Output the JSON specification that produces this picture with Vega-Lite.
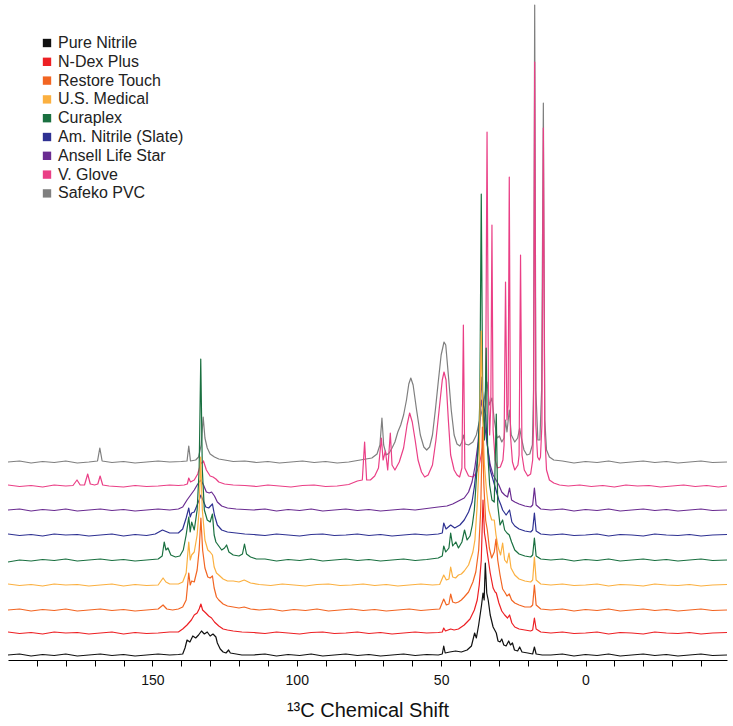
{
  "$schema": "https://vega.github.io/schema/vega-lite/v6.json",
  "description": "Stacked 13C NMR spectra of nine glove materials.",
  "width": 719,
  "height": 660,
  "autosize": {"type": "none"},
  "padding": {"left": 8, "top": 0, "right": 6, "bottom": 66},
  "config": {"view": {"stroke": null}, "font": "Liberation Sans"},
  "datasets": {
    "spectra": [
      {"s":"Safeko PVC","x":200,"y":198},{"s":"Safeko PVC","x":196,"y":199},{"s":"Safeko PVC","x":192,"y":197},{"s":"Safeko PVC","x":188,"y":198.5},{"s":"Safeko PVC","x":184,"y":197.5},{"s":"Safeko PVC","x":180,"y":199},{"s":"Safeko PVC","x":176,"y":197},{"s":"Safeko PVC","x":172,"y":198},{"s":"Safeko PVC","x":169,"y":199},{"s":"Safeko PVC","x":168.2,"y":212},{"s":"Safeko PVC","x":167.4,"y":199},{"s":"Safeko PVC","x":164,"y":197.5},{"s":"Safeko PVC","x":160,"y":198.5},{"s":"Safeko PVC","x":156,"y":197},{"s":"Safeko PVC","x":152,"y":198},{"s":"Safeko PVC","x":148,"y":199},{"s":"Safeko PVC","x":144,"y":198},{"s":"Safeko PVC","x":140,"y":198.5},{"s":"Safeko PVC","x":138,"y":199},{"s":"Safeko PVC","x":137.4,"y":214},{"s":"Safeko PVC","x":136.8,"y":199},{"s":"Safeko PVC","x":135,"y":200},{"s":"Safeko PVC","x":134,"y":203},{"s":"Safeko PVC","x":133.1,"y":215},{"s":"Safeko PVC","x":132.4,"y":243},{"s":"Safeko PVC","x":131.8,"y":222},{"s":"Safeko PVC","x":131,"y":212},{"s":"Safeko PVC","x":130,"y":206},{"s":"Safeko PVC","x":128.5,"y":203},{"s":"Safeko PVC","x":127,"y":201},{"s":"Safeko PVC","x":125,"y":200},{"s":"Safeko PVC","x":122,"y":198.5},{"s":"Safeko PVC","x":118,"y":199},{"s":"Safeko PVC","x":114,"y":197.5},{"s":"Safeko PVC","x":110,"y":198.5},{"s":"Safeko PVC","x":106,"y":197},{"s":"Safeko PVC","x":102,"y":198},{"s":"Safeko PVC","x":98,"y":199},{"s":"Safeko PVC","x":94,"y":197.5},{"s":"Safeko PVC","x":90,"y":198.5},{"s":"Safeko PVC","x":86,"y":197},{"s":"Safeko PVC","x":82,"y":198},{"s":"Safeko PVC","x":78,"y":200},{"s":"Safeko PVC","x":74,"y":202},{"s":"Safeko PVC","x":72.2,"y":206},{"s":"Safeko PVC","x":71.2,"y":215},{"s":"Safeko PVC","x":70.5,"y":242},{"s":"Safeko PVC","x":69.9,"y":215},{"s":"Safeko PVC","x":69,"y":205},{"s":"Safeko PVC","x":68,"y":207},{"s":"Safeko PVC","x":67,"y":212},{"s":"Safeko PVC","x":66,"y":218},{"s":"Safeko PVC","x":65,"y":228},{"s":"Safeko PVC","x":64,"y":235},{"s":"Safeko PVC","x":63,"y":245},{"s":"Safeko PVC","x":62,"y":260},{"s":"Safeko PVC","x":61.2,"y":276},{"s":"Safeko PVC","x":60.5,"y":282},{"s":"Safeko PVC","x":59.7,"y":275},{"s":"Safeko PVC","x":58.5,"y":250},{"s":"Safeko PVC","x":57.2,"y":225},{"s":"Safeko PVC","x":56,"y":213},{"s":"Safeko PVC","x":55,"y":210},{"s":"Safeko PVC","x":54,"y":213},{"s":"Safeko PVC","x":53,"y":225},{"s":"Safeko PVC","x":52,"y":250},{"s":"Safeko PVC","x":51,"y":278},{"s":"Safeko PVC","x":50,"y":305},{"s":"Safeko PVC","x":49,"y":318},{"s":"Safeko PVC","x":48.4,"y":315},{"s":"Safeko PVC","x":47.5,"y":285},{"s":"Safeko PVC","x":46.5,"y":250},{"s":"Safeko PVC","x":45.5,"y":225},{"s":"Safeko PVC","x":44.5,"y":216},{"s":"Safeko PVC","x":43.5,"y":214},{"s":"Safeko PVC","x":42.8,"y":218},{"s":"Safeko PVC","x":42.3,"y":225},{"s":"Safeko PVC","x":41.7,"y":216},{"s":"Safeko PVC","x":40.5,"y":215},{"s":"Safeko PVC","x":39,"y":218},{"s":"Safeko PVC","x":37.8,"y":225},{"s":"Safeko PVC","x":36.8,"y":238},{"s":"Safeko PVC","x":35.8,"y":250},{"s":"Safeko PVC","x":35,"y":262},{"s":"Safeko PVC","x":34.1,"y":278},{"s":"Safeko PVC","x":33.3,"y":255},{"s":"Safeko PVC","x":32.4,"y":262},{"s":"Safeko PVC","x":31.6,"y":240},{"s":"Safeko PVC","x":30.6,"y":222},{"s":"Safeko PVC","x":29.8,"y":224},{"s":"Safeko PVC","x":29,"y":218},{"s":"Safeko PVC","x":28.2,"y":222},{"s":"Safeko PVC","x":27.7,"y":240},{"s":"Safeko PVC","x":27.2,"y":228},{"s":"Safeko PVC","x":26.4,"y":250},{"s":"Safeko PVC","x":25.7,"y":225},{"s":"Safeko PVC","x":24.5,"y":218},{"s":"Safeko PVC","x":23.5,"y":222},{"s":"Safeko PVC","x":22.8,"y":232},{"s":"Safeko PVC","x":22.2,"y":222},{"s":"Safeko PVC","x":21.3,"y":210},{"s":"Safeko PVC","x":20.3,"y":205},{"s":"Safeko PVC","x":19.3,"y":206},{"s":"Safeko PVC","x":18.4,"y":215},{"s":"Safeko PVC","x":18,"y":270},{"s":"Safeko PVC","x":17.6,"y":655},{"s":"Safeko PVC","x":17.2,"y":270},{"s":"Safeko PVC","x":16.5,"y":220},{"s":"Safeko PVC","x":15.8,"y":220},{"s":"Safeko PVC","x":15.2,"y":270},{"s":"Safeko PVC","x":14.6,"y":557},{"s":"Safeko PVC","x":14.1,"y":240},{"s":"Safeko PVC","x":13.5,"y":210},{"s":"Safeko PVC","x":12.5,"y":203},{"s":"Safeko PVC","x":11,"y":200},{"s":"Safeko PVC","x":8,"y":199},{"s":"Safeko PVC","x":4,"y":197},{"s":"Safeko PVC","x":0,"y":198.5},{"s":"Safeko PVC","x":-4,"y":197.5},{"s":"Safeko PVC","x":-8,"y":199},{"s":"Safeko PVC","x":-12,"y":197},{"s":"Safeko PVC","x":-16,"y":198},{"s":"Safeko PVC","x":-20,"y":199},{"s":"Safeko PVC","x":-24,"y":197.5},{"s":"Safeko PVC","x":-28,"y":198.5},{"s":"Safeko PVC","x":-32,"y":197},{"s":"Safeko PVC","x":-36,"y":198},{"s":"Safeko PVC","x":-40,"y":199},{"s":"Safeko PVC","x":-44,"y":197.5},{"s":"Safeko PVC","x":-49,"y":198},

      {"s":"V. Glove","x":200,"y":175},{"s":"V. Glove","x":196,"y":173.5},{"s":"V. Glove","x":192,"y":174.5},{"s":"V. Glove","x":188,"y":173},{"s":"V. Glove","x":184,"y":175},{"s":"V. Glove","x":180,"y":174},{"s":"V. Glove","x":177.5,"y":174.5},{"s":"V. Glove","x":176.1,"y":180},{"s":"V. Glove","x":175,"y":175},{"s":"V. Glove","x":173.5,"y":175},{"s":"V. Glove","x":172.4,"y":186},{"s":"V. Glove","x":171.5,"y":176},{"s":"V. Glove","x":170,"y":175},{"s":"V. Glove","x":168.9,"y":176},{"s":"V. Glove","x":168.1,"y":184},{"s":"V. Glove","x":167.2,"y":175},{"s":"V. Glove","x":165,"y":174},{"s":"V. Glove","x":160,"y":173},{"s":"V. Glove","x":156,"y":174.5},{"s":"V. Glove","x":152,"y":173.5},{"s":"V. Glove","x":148,"y":174},{"s":"V. Glove","x":144,"y":175},{"s":"V. Glove","x":141,"y":174.5},{"s":"V. Glove","x":139,"y":175},{"s":"V. Glove","x":137.9,"y":176},{"s":"V. Glove","x":137.4,"y":182},{"s":"V. Glove","x":136.8,"y":178},{"s":"V. Glove","x":135.5,"y":180},{"s":"V. Glove","x":134.3,"y":186},{"s":"V. Glove","x":133.3,"y":196},{"s":"V. Glove","x":132.3,"y":199},{"s":"V. Glove","x":131.3,"y":190},{"s":"V. Glove","x":130,"y":184},{"s":"V. Glove","x":129,"y":183},{"s":"V. Glove","x":128,"y":181},{"s":"V. Glove","x":127,"y":178},{"s":"V. Glove","x":125,"y":176},{"s":"V. Glove","x":122,"y":175},{"s":"V. Glove","x":118,"y":174.5},{"s":"V. Glove","x":114,"y":173.5},{"s":"V. Glove","x":110,"y":175},{"s":"V. Glove","x":106,"y":174},{"s":"V. Glove","x":102,"y":173},{"s":"V. Glove","x":98,"y":174.5},{"s":"V. Glove","x":94,"y":175},{"s":"V. Glove","x":90,"y":173.5},{"s":"V. Glove","x":86,"y":174},{"s":"V. Glove","x":82,"y":175.5},{"s":"V. Glove","x":79,"y":179},{"s":"V. Glove","x":77.3,"y":180},{"s":"V. Glove","x":76.5,"y":218},{"s":"V. Glove","x":75.8,"y":180},{"s":"V. Glove","x":74.5,"y":180},{"s":"V. Glove","x":73,"y":184},{"s":"V. Glove","x":71.7,"y":192},{"s":"V. Glove","x":70.7,"y":222},{"s":"V. Glove","x":70.1,"y":200},{"s":"V. Glove","x":69.3,"y":209},{"s":"V. Glove","x":68.5,"y":190},{"s":"V. Glove","x":67.6,"y":227},{"s":"V. Glove","x":67,"y":195},{"s":"V. Glove","x":66,"y":190},{"s":"V. Glove","x":64.5,"y":198},{"s":"V. Glove","x":63,"y":212},{"s":"V. Glove","x":61.8,"y":235},{"s":"V. Glove","x":60.9,"y":247},{"s":"V. Glove","x":60,"y":238},{"s":"V. Glove","x":59,"y":220},{"s":"V. Glove","x":58,"y":200},{"s":"V. Glove","x":56.8,"y":188},{"s":"V. Glove","x":55.7,"y":183},{"s":"V. Glove","x":54.5,"y":185},{"s":"V. Glove","x":53,"y":195},{"s":"V. Glove","x":51.8,"y":220},{"s":"V. Glove","x":50.7,"y":250},{"s":"V. Glove","x":49.6,"y":280},{"s":"V. Glove","x":49,"y":288},{"s":"V. Glove","x":48.3,"y":280},{"s":"V. Glove","x":47.5,"y":240},{"s":"V. Glove","x":46.7,"y":205},{"s":"V. Glove","x":45.5,"y":190},{"s":"V. Glove","x":44.5,"y":185},{"s":"V. Glove","x":43.6,"y":183},{"s":"V. Glove","x":42.8,"y":192},{"s":"V. Glove","x":42.3,"y":335},{"s":"V. Glove","x":41.8,"y":192},{"s":"V. Glove","x":40.5,"y":184},{"s":"V. Glove","x":39,"y":183},{"s":"V. Glove","x":37.8,"y":187},{"s":"V. Glove","x":36.8,"y":195},{"s":"V. Glove","x":35.8,"y":210},{"s":"V. Glove","x":35,"y":225},{"s":"V. Glove","x":34.6,"y":260},{"s":"V. Glove","x":34.1,"y":528},{"s":"V. Glove","x":33.6,"y":260},{"s":"V. Glove","x":33.2,"y":225},{"s":"V. Glove","x":32.8,"y":255},{"s":"V. Glove","x":32.4,"y":435},{"s":"V. Glove","x":32,"y":230},{"s":"V. Glove","x":31.3,"y":200},{"s":"V. Glove","x":30.5,"y":192},{"s":"V. Glove","x":29.5,"y":193},{"s":"V. Glove","x":28.6,"y":200},{"s":"V. Glove","x":28.2,"y":215},{"s":"V. Glove","x":27.7,"y":378},{"s":"V. Glove","x":27.2,"y":240},{"s":"V. Glove","x":26.8,"y":255},{"s":"V. Glove","x":26.4,"y":483},{"s":"V. Glove","x":26,"y":225},{"s":"V. Glove","x":25.3,"y":198},{"s":"V. Glove","x":24.5,"y":190},{"s":"V. Glove","x":23.4,"y":195},{"s":"V. Glove","x":23,"y":205},{"s":"V. Glove","x":22.5,"y":405},{"s":"V. Glove","x":22,"y":205},{"s":"V. Glove","x":21.2,"y":190},{"s":"V. Glove","x":20,"y":184},{"s":"V. Glove","x":19,"y":186},{"s":"V. Glove","x":18.3,"y":200},{"s":"V. Glove","x":18,"y":235},{"s":"V. Glove","x":17.6,"y":598},{"s":"V. Glove","x":17.2,"y":235},{"s":"V. Glove","x":16.6,"y":203},{"s":"V. Glove","x":16,"y":200},{"s":"V. Glove","x":15.6,"y":203},{"s":"V. Glove","x":15.1,"y":235},{"s":"V. Glove","x":14.6,"y":532},{"s":"V. Glove","x":14.1,"y":225},{"s":"V. Glove","x":13.5,"y":190},{"s":"V. Glove","x":12.5,"y":180},{"s":"V. Glove","x":11,"y":177},{"s":"V. Glove","x":9,"y":175},{"s":"V. Glove","x":6,"y":174},{"s":"V. Glove","x":2,"y":175},{"s":"V. Glove","x":-2,"y":173.5},{"s":"V. Glove","x":-6,"y":174.5},{"s":"V. Glove","x":-10,"y":173},{"s":"V. Glove","x":-14,"y":175},{"s":"V. Glove","x":-18,"y":174},{"s":"V. Glove","x":-22,"y":174.5},{"s":"V. Glove","x":-26,"y":173},{"s":"V. Glove","x":-30,"y":174},{"s":"V. Glove","x":-34,"y":175},{"s":"V. Glove","x":-38,"y":173.5},{"s":"V. Glove","x":-42,"y":174.5},{"s":"V. Glove","x":-46,"y":173},{"s":"V. Glove","x":-49,"y":174},

      {"s":"Ansell Life Star","x":200,"y":150},{"s":"Ansell Life Star","x":196,"y":151},{"s":"Ansell Life Star","x":192,"y":149},{"s":"Ansell Life Star","x":188,"y":150.5},{"s":"Ansell Life Star","x":184,"y":149.5},{"s":"Ansell Life Star","x":180,"y":151},{"s":"Ansell Life Star","x":176,"y":149},{"s":"Ansell Life Star","x":172,"y":150},{"s":"Ansell Life Star","x":168,"y":151},{"s":"Ansell Life Star","x":164,"y":149.5},{"s":"Ansell Life Star","x":160,"y":150.5},{"s":"Ansell Life Star","x":156,"y":149},{"s":"Ansell Life Star","x":152,"y":150},{"s":"Ansell Life Star","x":148,"y":151},{"s":"Ansell Life Star","x":144,"y":150},{"s":"Ansell Life Star","x":141,"y":151},{"s":"Ansell Life Star","x":139.5,"y":153},{"s":"Ansell Life Star","x":138,"y":160},{"s":"Ansell Life Star","x":136.5,"y":166},{"s":"Ansell Life Star","x":135.5,"y":170},{"s":"Ansell Life Star","x":134.5,"y":175},{"s":"Ansell Life Star","x":133.8,"y":178},{"s":"Ansell Life Star","x":133.2,"y":180},{"s":"Ansell Life Star","x":132.3,"y":175},{"s":"Ansell Life Star","x":131.3,"y":168},{"s":"Ansell Life Star","x":130.3,"y":167},{"s":"Ansell Life Star","x":129.5,"y":168},{"s":"Ansell Life Star","x":128.5,"y":164},{"s":"Ansell Life Star","x":127.5,"y":158},{"s":"Ansell Life Star","x":126,"y":154},{"s":"Ansell Life Star","x":124,"y":152},{"s":"Ansell Life Star","x":121,"y":151},{"s":"Ansell Life Star","x":118,"y":150.5},{"s":"Ansell Life Star","x":115,"y":150},{"s":"Ansell Life Star","x":111,"y":151},{"s":"Ansell Life Star","x":107,"y":149},{"s":"Ansell Life Star","x":103,"y":150.5},{"s":"Ansell Life Star","x":99,"y":149.5},{"s":"Ansell Life Star","x":95,"y":151},{"s":"Ansell Life Star","x":91,"y":149},{"s":"Ansell Life Star","x":87,"y":150},{"s":"Ansell Life Star","x":83,"y":151},{"s":"Ansell Life Star","x":79,"y":149.5},{"s":"Ansell Life Star","x":75,"y":150.5},{"s":"Ansell Life Star","x":71,"y":149},{"s":"Ansell Life Star","x":67,"y":150},{"s":"Ansell Life Star","x":63,"y":151},{"s":"Ansell Life Star","x":59,"y":150},{"s":"Ansell Life Star","x":55,"y":151.5},{"s":"Ansell Life Star","x":51,"y":153},{"s":"Ansell Life Star","x":48,"y":154},{"s":"Ansell Life Star","x":46,"y":156},{"s":"Ansell Life Star","x":44,"y":159},{"s":"Ansell Life Star","x":42,"y":162},{"s":"Ansell Life Star","x":40.5,"y":168},{"s":"Ansell Life Star","x":39.3,"y":178},{"s":"Ansell Life Star","x":38.3,"y":193},{"s":"Ansell Life Star","x":37.3,"y":215},{"s":"Ansell Life Star","x":36.5,"y":245},{"s":"Ansell Life Star","x":36.1,"y":260},{"s":"Ansell Life Star","x":35.5,"y":250},{"s":"Ansell Life Star","x":34.8,"y":232},{"s":"Ansell Life Star","x":34,"y":215},{"s":"Ansell Life Star","x":33,"y":195},{"s":"Ansell Life Star","x":32,"y":185},{"s":"Ansell Life Star","x":31,"y":180},{"s":"Ansell Life Star","x":30,"y":175},{"s":"Ansell Life Star","x":29,"y":168},{"s":"Ansell Life Star","x":28,"y":165},{"s":"Ansell Life Star","x":27,"y":163},{"s":"Ansell Life Star","x":26.3,"y":172},{"s":"Ansell Life Star","x":25.6,"y":160},{"s":"Ansell Life Star","x":24.5,"y":158},{"s":"Ansell Life Star","x":23,"y":156},{"s":"Ansell Life Star","x":21,"y":154},{"s":"Ansell Life Star","x":19,"y":153},{"s":"Ansell Life Star","x":18.3,"y":155},{"s":"Ansell Life Star","x":17.7,"y":172},{"s":"Ansell Life Star","x":17.1,"y":155},{"s":"Ansell Life Star","x":15.5,"y":151},{"s":"Ansell Life Star","x":12,"y":150},{"s":"Ansell Life Star","x":8,"y":151},{"s":"Ansell Life Star","x":4,"y":149},{"s":"Ansell Life Star","x":0,"y":150.5},{"s":"Ansell Life Star","x":-4,"y":149.5},{"s":"Ansell Life Star","x":-8,"y":151},{"s":"Ansell Life Star","x":-12,"y":149},{"s":"Ansell Life Star","x":-16,"y":150},{"s":"Ansell Life Star","x":-20,"y":151},{"s":"Ansell Life Star","x":-24,"y":149.5},{"s":"Ansell Life Star","x":-28,"y":150.5},{"s":"Ansell Life Star","x":-32,"y":149},{"s":"Ansell Life Star","x":-36,"y":150},{"s":"Ansell Life Star","x":-40,"y":151},{"s":"Ansell Life Star","x":-44,"y":149.5},{"s":"Ansell Life Star","x":-49,"y":150},

      {"s":"Am. Nitrile (Slate)","x":200,"y":126},{"s":"Am. Nitrile (Slate)","x":196,"y":124.5},{"s":"Am. Nitrile (Slate)","x":192,"y":125.5},{"s":"Am. Nitrile (Slate)","x":188,"y":124},{"s":"Am. Nitrile (Slate)","x":184,"y":126},{"s":"Am. Nitrile (Slate)","x":180,"y":125},{"s":"Am. Nitrile (Slate)","x":176,"y":125.5},{"s":"Am. Nitrile (Slate)","x":172,"y":124},{"s":"Am. Nitrile (Slate)","x":168,"y":125},{"s":"Am. Nitrile (Slate)","x":164,"y":126},{"s":"Am. Nitrile (Slate)","x":160,"y":124},{"s":"Am. Nitrile (Slate)","x":156,"y":125.5},{"s":"Am. Nitrile (Slate)","x":152,"y":124.5},{"s":"Am. Nitrile (Slate)","x":149,"y":126},{"s":"Am. Nitrile (Slate)","x":146.5,"y":130},{"s":"Am. Nitrile (Slate)","x":144,"y":127},{"s":"Am. Nitrile (Slate)","x":141,"y":127},{"s":"Am. Nitrile (Slate)","x":139.5,"y":131},{"s":"Am. Nitrile (Slate)","x":138.3,"y":142},{"s":"Am. Nitrile (Slate)","x":137.4,"y":152},{"s":"Am. Nitrile (Slate)","x":136.9,"y":143},{"s":"Am. Nitrile (Slate)","x":136.4,"y":147},{"s":"Am. Nitrile (Slate)","x":135.5,"y":148},{"s":"Am. Nitrile (Slate)","x":134.5,"y":155},{"s":"Am. Nitrile (Slate)","x":133.8,"y":160},{"s":"Am. Nitrile (Slate)","x":133.2,"y":165},{"s":"Am. Nitrile (Slate)","x":132.5,"y":160},{"s":"Am. Nitrile (Slate)","x":131.5,"y":153},{"s":"Am. Nitrile (Slate)","x":130.5,"y":152},{"s":"Am. Nitrile (Slate)","x":129.2,"y":156},{"s":"Am. Nitrile (Slate)","x":128.5,"y":145},{"s":"Am. Nitrile (Slate)","x":127.5,"y":135},{"s":"Am. Nitrile (Slate)","x":126,"y":130},{"s":"Am. Nitrile (Slate)","x":124,"y":128},{"s":"Am. Nitrile (Slate)","x":121,"y":127},{"s":"Am. Nitrile (Slate)","x":118,"y":126},{"s":"Am. Nitrile (Slate)","x":115,"y":125.5},{"s":"Am. Nitrile (Slate)","x":111,"y":124.5},{"s":"Am. Nitrile (Slate)","x":107,"y":126},{"s":"Am. Nitrile (Slate)","x":103,"y":125},{"s":"Am. Nitrile (Slate)","x":99,"y":124},{"s":"Am. Nitrile (Slate)","x":95,"y":125.5},{"s":"Am. Nitrile (Slate)","x":91,"y":126},{"s":"Am. Nitrile (Slate)","x":87,"y":124.5},{"s":"Am. Nitrile (Slate)","x":83,"y":125},{"s":"Am. Nitrile (Slate)","x":79,"y":126},{"s":"Am. Nitrile (Slate)","x":75,"y":124.5},{"s":"Am. Nitrile (Slate)","x":71,"y":125.5},{"s":"Am. Nitrile (Slate)","x":67,"y":124},{"s":"Am. Nitrile (Slate)","x":63,"y":125},{"s":"Am. Nitrile (Slate)","x":59,"y":126},{"s":"Am. Nitrile (Slate)","x":55,"y":125},{"s":"Am. Nitrile (Slate)","x":51,"y":126},{"s":"Am. Nitrile (Slate)","x":49.6,"y":127},{"s":"Am. Nitrile (Slate)","x":49.1,"y":137},{"s":"Am. Nitrile (Slate)","x":48.3,"y":131},{"s":"Am. Nitrile (Slate)","x":46.7,"y":135},{"s":"Am. Nitrile (Slate)","x":45.3,"y":132},{"s":"Am. Nitrile (Slate)","x":43.5,"y":135},{"s":"Am. Nitrile (Slate)","x":42,"y":140},{"s":"Am. Nitrile (Slate)","x":40.5,"y":148},{"s":"Am. Nitrile (Slate)","x":39.3,"y":158},{"s":"Am. Nitrile (Slate)","x":38.5,"y":173},{"s":"Am. Nitrile (Slate)","x":37.5,"y":200},{"s":"Am. Nitrile (Slate)","x":36.6,"y":235},{"s":"Am. Nitrile (Slate)","x":36,"y":283},{"s":"Am. Nitrile (Slate)","x":35.4,"y":255},{"s":"Am. Nitrile (Slate)","x":34.6,"y":245},{"s":"Am. Nitrile (Slate)","x":34,"y":215},{"s":"Am. Nitrile (Slate)","x":33,"y":190},{"s":"Am. Nitrile (Slate)","x":32,"y":180},{"s":"Am. Nitrile (Slate)","x":31,"y":170},{"s":"Am. Nitrile (Slate)","x":30,"y":160},{"s":"Am. Nitrile (Slate)","x":29.3,"y":155},{"s":"Am. Nitrile (Slate)","x":28.7,"y":150},{"s":"Am. Nitrile (Slate)","x":27.5,"y":145},{"s":"Am. Nitrile (Slate)","x":26.3,"y":150},{"s":"Am. Nitrile (Slate)","x":25.5,"y":138},{"s":"Am. Nitrile (Slate)","x":24.5,"y":134},{"s":"Am. Nitrile (Slate)","x":23,"y":131},{"s":"Am. Nitrile (Slate)","x":21,"y":129},{"s":"Am. Nitrile (Slate)","x":19,"y":128},{"s":"Am. Nitrile (Slate)","x":18.3,"y":130},{"s":"Am. Nitrile (Slate)","x":17.7,"y":147},{"s":"Am. Nitrile (Slate)","x":17.1,"y":129},{"s":"Am. Nitrile (Slate)","x":15.5,"y":126},{"s":"Am. Nitrile (Slate)","x":12,"y":125},{"s":"Am. Nitrile (Slate)","x":8,"y":126},{"s":"Am. Nitrile (Slate)","x":4,"y":124.5},{"s":"Am. Nitrile (Slate)","x":0,"y":125},{"s":"Am. Nitrile (Slate)","x":-4,"y":126},{"s":"Am. Nitrile (Slate)","x":-8,"y":124},{"s":"Am. Nitrile (Slate)","x":-12,"y":125.5},{"s":"Am. Nitrile (Slate)","x":-16,"y":125},{"s":"Am. Nitrile (Slate)","x":-20,"y":124},{"s":"Am. Nitrile (Slate)","x":-24,"y":126},{"s":"Am. Nitrile (Slate)","x":-28,"y":125},{"s":"Am. Nitrile (Slate)","x":-32,"y":124.5},{"s":"Am. Nitrile (Slate)","x":-36,"y":125.5},{"s":"Am. Nitrile (Slate)","x":-40,"y":124},{"s":"Am. Nitrile (Slate)","x":-44,"y":125},{"s":"Am. Nitrile (Slate)","x":-49,"y":125.5},

      {"s":"Curaplex","x":200,"y":98},{"s":"Curaplex","x":196,"y":100},{"s":"Curaplex","x":192,"y":99},{"s":"Curaplex","x":188,"y":100.5},{"s":"Curaplex","x":184,"y":99.5},{"s":"Curaplex","x":180,"y":101},{"s":"Curaplex","x":176,"y":99},{"s":"Curaplex","x":172,"y":100},{"s":"Curaplex","x":168,"y":101},{"s":"Curaplex","x":164,"y":99.5},{"s":"Curaplex","x":160,"y":100.5},{"s":"Curaplex","x":156,"y":99},{"s":"Curaplex","x":152,"y":100},{"s":"Curaplex","x":148,"y":101},{"s":"Curaplex","x":146.6,"y":104},{"s":"Curaplex","x":145.9,"y":118},{"s":"Curaplex","x":145.3,"y":110},{"s":"Curaplex","x":144.6,"y":112},{"s":"Curaplex","x":143.6,"y":105},{"s":"Curaplex","x":142,"y":103},{"s":"Curaplex","x":140.5,"y":104},{"s":"Curaplex","x":139.3,"y":110},{"s":"Curaplex","x":138.3,"y":125},{"s":"Curaplex","x":137.4,"y":143},{"s":"Curaplex","x":136.9,"y":128},{"s":"Curaplex","x":136.4,"y":138},{"s":"Curaplex","x":135.5,"y":130},{"s":"Curaplex","x":134.5,"y":150},{"s":"Curaplex","x":133.8,"y":190},{"s":"Curaplex","x":133.25,"y":301},{"s":"Curaplex","x":132.7,"y":190},{"s":"Curaplex","x":132,"y":150},{"s":"Curaplex","x":131,"y":140},{"s":"Curaplex","x":130,"y":138},{"s":"Curaplex","x":129.2,"y":146},{"s":"Curaplex","x":128.6,"y":125},{"s":"Curaplex","x":128,"y":118},{"s":"Curaplex","x":127,"y":114},{"s":"Curaplex","x":126,"y":110},{"s":"Curaplex","x":125,"y":112},{"s":"Curaplex","x":124.3,"y":115},{"s":"Curaplex","x":123.5,"y":108},{"s":"Curaplex","x":122,"y":105},{"s":"Curaplex","x":120,"y":104},{"s":"Curaplex","x":118.8,"y":106},{"s":"Curaplex","x":118.1,"y":116},{"s":"Curaplex","x":117.4,"y":106},{"s":"Curaplex","x":116,"y":103},{"s":"Curaplex","x":114,"y":101},{"s":"Curaplex","x":111,"y":101},{"s":"Curaplex","x":107,"y":99},{"s":"Curaplex","x":103,"y":100.5},{"s":"Curaplex","x":99,"y":99.5},{"s":"Curaplex","x":95,"y":101},{"s":"Curaplex","x":91,"y":99},{"s":"Curaplex","x":87,"y":100},{"s":"Curaplex","x":83,"y":101},{"s":"Curaplex","x":79,"y":99.5},{"s":"Curaplex","x":75,"y":100.5},{"s":"Curaplex","x":71,"y":99},{"s":"Curaplex","x":67,"y":100},{"s":"Curaplex","x":63,"y":101},{"s":"Curaplex","x":59,"y":99.5},{"s":"Curaplex","x":55,"y":100.5},{"s":"Curaplex","x":51,"y":102},{"s":"Curaplex","x":49.6,"y":104},{"s":"Curaplex","x":49.1,"y":114},{"s":"Curaplex","x":48.4,"y":108},{"s":"Curaplex","x":47.3,"y":112},{"s":"Curaplex","x":46.7,"y":127},{"s":"Curaplex","x":46,"y":114},{"s":"Curaplex","x":44.9,"y":118},{"s":"Curaplex","x":44,"y":112},{"s":"Curaplex","x":42.8,"y":118},{"s":"Curaplex","x":41.9,"y":130},{"s":"Curaplex","x":41,"y":120},{"s":"Curaplex","x":40,"y":124},{"s":"Curaplex","x":39.2,"y":135},{"s":"Curaplex","x":38.5,"y":150},{"s":"Curaplex","x":37.6,"y":190},{"s":"Curaplex","x":37,"y":220},{"s":"Curaplex","x":36.6,"y":260},{"s":"Curaplex","x":36.1,"y":466},{"s":"Curaplex","x":35.6,"y":260},{"s":"Curaplex","x":35,"y":220},{"s":"Curaplex","x":34.4,"y":312},{"s":"Curaplex","x":33.9,"y":210},{"s":"Curaplex","x":33.2,"y":175},{"s":"Curaplex","x":32.4,"y":160},{"s":"Curaplex","x":31.6,"y":158},{"s":"Curaplex","x":30.9,"y":246},{"s":"Curaplex","x":30.4,"y":155},{"s":"Curaplex","x":29.6,"y":135},{"s":"Curaplex","x":28.7,"y":140},{"s":"Curaplex","x":28,"y":130},{"s":"Curaplex","x":27.2,"y":127},{"s":"Curaplex","x":26.4,"y":125},{"s":"Curaplex","x":25.6,"y":118},{"s":"Curaplex","x":24.5,"y":110},{"s":"Curaplex","x":23,"y":106},{"s":"Curaplex","x":21,"y":104},{"s":"Curaplex","x":19,"y":103},{"s":"Curaplex","x":18.3,"y":105},{"s":"Curaplex","x":17.7,"y":122},{"s":"Curaplex","x":17.1,"y":104},{"s":"Curaplex","x":15.5,"y":101},{"s":"Curaplex","x":12,"y":100},{"s":"Curaplex","x":8,"y":101},{"s":"Curaplex","x":4,"y":99},{"s":"Curaplex","x":0,"y":100.5},{"s":"Curaplex","x":-4,"y":99.5},{"s":"Curaplex","x":-8,"y":101},{"s":"Curaplex","x":-12,"y":99},{"s":"Curaplex","x":-16,"y":100},{"s":"Curaplex","x":-20,"y":101},{"s":"Curaplex","x":-24,"y":99.5},{"s":"Curaplex","x":-28,"y":100.5},{"s":"Curaplex","x":-32,"y":99},{"s":"Curaplex","x":-36,"y":100},{"s":"Curaplex","x":-40,"y":101},{"s":"Curaplex","x":-44,"y":99.5},{"s":"Curaplex","x":-49,"y":100},

      {"s":"U.S. Medical","x":200,"y":76},{"s":"U.S. Medical","x":196,"y":74.5},{"s":"U.S. Medical","x":192,"y":75.5},{"s":"U.S. Medical","x":188,"y":74},{"s":"U.S. Medical","x":184,"y":76},{"s":"U.S. Medical","x":180,"y":75},{"s":"U.S. Medical","x":176,"y":75.5},{"s":"U.S. Medical","x":172,"y":74},{"s":"U.S. Medical","x":168,"y":75},{"s":"U.S. Medical","x":164,"y":76},{"s":"U.S. Medical","x":160,"y":74},{"s":"U.S. Medical","x":156,"y":75.5},{"s":"U.S. Medical","x":152,"y":74.5},{"s":"U.S. Medical","x":148,"y":75},{"s":"U.S. Medical","x":146.3,"y":82},{"s":"U.S. Medical","x":145.3,"y":78},{"s":"U.S. Medical","x":144,"y":76},{"s":"U.S. Medical","x":141,"y":76},{"s":"U.S. Medical","x":139.5,"y":78},{"s":"U.S. Medical","x":138.3,"y":87},{"s":"U.S. Medical","x":137.4,"y":118},{"s":"U.S. Medical","x":136.9,"y":100},{"s":"U.S. Medical","x":136.4,"y":105},{"s":"U.S. Medical","x":135.5,"y":108},{"s":"U.S. Medical","x":134.5,"y":125},{"s":"U.S. Medical","x":133.8,"y":150},{"s":"U.S. Medical","x":133.3,"y":203},{"s":"U.S. Medical","x":132.7,"y":150},{"s":"U.S. Medical","x":131.8,"y":120},{"s":"U.S. Medical","x":130.8,"y":110},{"s":"U.S. Medical","x":130,"y":108},{"s":"U.S. Medical","x":129.2,"y":105},{"s":"U.S. Medical","x":128.6,"y":93},{"s":"U.S. Medical","x":127.8,"y":87},{"s":"U.S. Medical","x":127,"y":85},{"s":"U.S. Medical","x":125.5,"y":81},{"s":"U.S. Medical","x":124,"y":79},{"s":"U.S. Medical","x":122,"y":79},{"s":"U.S. Medical","x":120,"y":78},{"s":"U.S. Medical","x":118.2,"y":80},{"s":"U.S. Medical","x":116,"y":77},{"s":"U.S. Medical","x":113,"y":75.5},{"s":"U.S. Medical","x":109,"y":74.5},{"s":"U.S. Medical","x":105,"y":76},{"s":"U.S. Medical","x":101,"y":75},{"s":"U.S. Medical","x":97,"y":74},{"s":"U.S. Medical","x":93,"y":75.5},{"s":"U.S. Medical","x":89,"y":76},{"s":"U.S. Medical","x":85,"y":74.5},{"s":"U.S. Medical","x":81,"y":75},{"s":"U.S. Medical","x":77,"y":76},{"s":"U.S. Medical","x":73,"y":74.5},{"s":"U.S. Medical","x":69,"y":75.5},{"s":"U.S. Medical","x":65,"y":74},{"s":"U.S. Medical","x":61,"y":75},{"s":"U.S. Medical","x":57,"y":76},{"s":"U.S. Medical","x":53,"y":75},{"s":"U.S. Medical","x":50.5,"y":75.5},{"s":"U.S. Medical","x":49.1,"y":85},{"s":"U.S. Medical","x":48.2,"y":80},{"s":"U.S. Medical","x":47.3,"y":81},{"s":"U.S. Medical","x":46.7,"y":93},{"s":"U.S. Medical","x":46,"y":83},{"s":"U.S. Medical","x":45,"y":82},{"s":"U.S. Medical","x":44,"y":85},{"s":"U.S. Medical","x":43,"y":86},{"s":"U.S. Medical","x":42,"y":89},{"s":"U.S. Medical","x":40.5,"y":95},{"s":"U.S. Medical","x":39,"y":108},{"s":"U.S. Medical","x":38.3,"y":120},{"s":"U.S. Medical","x":37.5,"y":155},{"s":"U.S. Medical","x":36.8,"y":200},{"s":"U.S. Medical","x":36.1,"y":329},{"s":"U.S. Medical","x":35.6,"y":240},{"s":"U.S. Medical","x":35,"y":195},{"s":"U.S. Medical","x":34.3,"y":170},{"s":"U.S. Medical","x":33.5,"y":150},{"s":"U.S. Medical","x":32.5,"y":140},{"s":"U.S. Medical","x":31.6,"y":140},{"s":"U.S. Medical","x":31,"y":125},{"s":"U.S. Medical","x":30.2,"y":112},{"s":"U.S. Medical","x":29.4,"y":105},{"s":"U.S. Medical","x":28.7,"y":117},{"s":"U.S. Medical","x":28,"y":100},{"s":"U.S. Medical","x":27.2,"y":97},{"s":"U.S. Medical","x":26.5,"y":107},{"s":"U.S. Medical","x":25.8,"y":92},{"s":"U.S. Medical","x":24.5,"y":85},{"s":"U.S. Medical","x":23,"y":81},{"s":"U.S. Medical","x":21,"y":79},{"s":"U.S. Medical","x":19,"y":78},{"s":"U.S. Medical","x":18.3,"y":80},{"s":"U.S. Medical","x":17.7,"y":103},{"s":"U.S. Medical","x":17.1,"y":80},{"s":"U.S. Medical","x":15.5,"y":76},{"s":"U.S. Medical","x":12,"y":75},{"s":"U.S. Medical","x":8,"y":76},{"s":"U.S. Medical","x":4,"y":74.5},{"s":"U.S. Medical","x":0,"y":75},{"s":"U.S. Medical","x":-4,"y":76},{"s":"U.S. Medical","x":-8,"y":74},{"s":"U.S. Medical","x":-12,"y":75.5},{"s":"U.S. Medical","x":-16,"y":75},{"s":"U.S. Medical","x":-20,"y":74},{"s":"U.S. Medical","x":-24,"y":76},{"s":"U.S. Medical","x":-28,"y":75},{"s":"U.S. Medical","x":-32,"y":74.5},{"s":"U.S. Medical","x":-36,"y":75.5},{"s":"U.S. Medical","x":-40,"y":74},{"s":"U.S. Medical","x":-44,"y":75},{"s":"U.S. Medical","x":-49,"y":75.5},

      {"s":"Restore Touch","x":200,"y":50},{"s":"Restore Touch","x":196,"y":51},{"s":"Restore Touch","x":192,"y":49},{"s":"Restore Touch","x":188,"y":50.5},{"s":"Restore Touch","x":184,"y":49.5},{"s":"Restore Touch","x":180,"y":51},{"s":"Restore Touch","x":176,"y":49},{"s":"Restore Touch","x":172,"y":50},{"s":"Restore Touch","x":168,"y":51},{"s":"Restore Touch","x":164,"y":49.5},{"s":"Restore Touch","x":160,"y":50.5},{"s":"Restore Touch","x":156,"y":49},{"s":"Restore Touch","x":152,"y":50},{"s":"Restore Touch","x":148,"y":51},{"s":"Restore Touch","x":146.3,"y":55},{"s":"Restore Touch","x":145,"y":51},{"s":"Restore Touch","x":143,"y":50},{"s":"Restore Touch","x":141,"y":51},{"s":"Restore Touch","x":139.5,"y":53},{"s":"Restore Touch","x":138.3,"y":60},{"s":"Restore Touch","x":137.4,"y":87},{"s":"Restore Touch","x":136.9,"y":75},{"s":"Restore Touch","x":136.4,"y":79},{"s":"Restore Touch","x":135.5,"y":78},{"s":"Restore Touch","x":134.5,"y":90},{"s":"Restore Touch","x":133.8,"y":110},{"s":"Restore Touch","x":133.2,"y":142},{"s":"Restore Touch","x":132.6,"y":110},{"s":"Restore Touch","x":131.8,"y":92},{"s":"Restore Touch","x":130.8,"y":83},{"s":"Restore Touch","x":130,"y":82},{"s":"Restore Touch","x":129.2,"y":84},{"s":"Restore Touch","x":128.6,"y":72},{"s":"Restore Touch","x":127.8,"y":63},{"s":"Restore Touch","x":127,"y":60},{"s":"Restore Touch","x":125.5,"y":56},{"s":"Restore Touch","x":124,"y":54},{"s":"Restore Touch","x":122,"y":53},{"s":"Restore Touch","x":120,"y":52},{"s":"Restore Touch","x":118.2,"y":53},{"s":"Restore Touch","x":116,"y":51},{"s":"Restore Touch","x":113,"y":50},{"s":"Restore Touch","x":109,"y":51},{"s":"Restore Touch","x":105,"y":49},{"s":"Restore Touch","x":101,"y":50.5},{"s":"Restore Touch","x":97,"y":49.5},{"s":"Restore Touch","x":93,"y":51},{"s":"Restore Touch","x":89,"y":49},{"s":"Restore Touch","x":85,"y":50},{"s":"Restore Touch","x":81,"y":51},{"s":"Restore Touch","x":77,"y":49.5},{"s":"Restore Touch","x":73,"y":50.5},{"s":"Restore Touch","x":69,"y":49},{"s":"Restore Touch","x":65,"y":50},{"s":"Restore Touch","x":61,"y":51},{"s":"Restore Touch","x":57,"y":49.5},{"s":"Restore Touch","x":53,"y":50.5},{"s":"Restore Touch","x":50.5,"y":51},{"s":"Restore Touch","x":49.1,"y":61},{"s":"Restore Touch","x":48.2,"y":55},{"s":"Restore Touch","x":47.3,"y":56},{"s":"Restore Touch","x":46.7,"y":66},{"s":"Restore Touch","x":46,"y":58},{"s":"Restore Touch","x":45,"y":57},{"s":"Restore Touch","x":44,"y":58},{"s":"Restore Touch","x":43,"y":60},{"s":"Restore Touch","x":42,"y":63},{"s":"Restore Touch","x":40.5,"y":68},{"s":"Restore Touch","x":39,"y":78},{"s":"Restore Touch","x":38,"y":88},{"s":"Restore Touch","x":37,"y":110},{"s":"Restore Touch","x":36.3,"y":150},{"s":"Restore Touch","x":35.7,"y":233},{"s":"Restore Touch","x":35.2,"y":175},{"s":"Restore Touch","x":34.6,"y":140},{"s":"Restore Touch","x":34,"y":130},{"s":"Restore Touch","x":33.3,"y":112},{"s":"Restore Touch","x":32.5,"y":102},{"s":"Restore Touch","x":31.6,"y":108},{"s":"Restore Touch","x":31,"y":121},{"s":"Restore Touch","x":30.4,"y":100},{"s":"Restore Touch","x":29.6,"y":85},{"s":"Restore Touch","x":28.7,"y":71},{"s":"Restore Touch","x":28,"y":68},{"s":"Restore Touch","x":27.2,"y":64},{"s":"Restore Touch","x":26.4,"y":66},{"s":"Restore Touch","x":25.6,"y":60},{"s":"Restore Touch","x":24.5,"y":57},{"s":"Restore Touch","x":23,"y":55},{"s":"Restore Touch","x":21,"y":53},{"s":"Restore Touch","x":19,"y":53},{"s":"Restore Touch","x":18.3,"y":55},{"s":"Restore Touch","x":17.7,"y":75},{"s":"Restore Touch","x":17.1,"y":55},{"s":"Restore Touch","x":15.5,"y":51},{"s":"Restore Touch","x":12,"y":50},{"s":"Restore Touch","x":8,"y":51},{"s":"Restore Touch","x":4,"y":49},{"s":"Restore Touch","x":0,"y":50.5},{"s":"Restore Touch","x":-4,"y":49.5},{"s":"Restore Touch","x":-8,"y":51},{"s":"Restore Touch","x":-12,"y":49},{"s":"Restore Touch","x":-16,"y":50},{"s":"Restore Touch","x":-20,"y":51},{"s":"Restore Touch","x":-24,"y":49.5},{"s":"Restore Touch","x":-28,"y":50.5},{"s":"Restore Touch","x":-32,"y":49},{"s":"Restore Touch","x":-36,"y":50},{"s":"Restore Touch","x":-40,"y":51},{"s":"Restore Touch","x":-44,"y":49.5},{"s":"Restore Touch","x":-49,"y":50},

      {"s":"N-Dex Plus","x":200,"y":28},{"s":"N-Dex Plus","x":196,"y":26.5},{"s":"N-Dex Plus","x":192,"y":27.5},{"s":"N-Dex Plus","x":188,"y":26},{"s":"N-Dex Plus","x":184,"y":28},{"s":"N-Dex Plus","x":180,"y":27},{"s":"N-Dex Plus","x":176,"y":27.5},{"s":"N-Dex Plus","x":172,"y":26},{"s":"N-Dex Plus","x":168,"y":27},{"s":"N-Dex Plus","x":164,"y":28},{"s":"N-Dex Plus","x":160,"y":26},{"s":"N-Dex Plus","x":156,"y":27.5},{"s":"N-Dex Plus","x":152,"y":26.5},{"s":"N-Dex Plus","x":148,"y":27},{"s":"N-Dex Plus","x":144,"y":28},{"s":"N-Dex Plus","x":141,"y":28},{"s":"N-Dex Plus","x":139.5,"y":31},{"s":"N-Dex Plus","x":138,"y":35},{"s":"N-Dex Plus","x":136.5,"y":40},{"s":"N-Dex Plus","x":135.5,"y":45},{"s":"N-Dex Plus","x":134.5,"y":47},{"s":"N-Dex Plus","x":133.8,"y":51},{"s":"N-Dex Plus","x":133.2,"y":56},{"s":"N-Dex Plus","x":132.6,"y":50},{"s":"N-Dex Plus","x":131.5,"y":47},{"s":"N-Dex Plus","x":130.5,"y":44},{"s":"N-Dex Plus","x":129.5,"y":42},{"s":"N-Dex Plus","x":128.5,"y":38},{"s":"N-Dex Plus","x":127,"y":34},{"s":"N-Dex Plus","x":125.5,"y":31},{"s":"N-Dex Plus","x":124,"y":30},{"s":"N-Dex Plus","x":122,"y":29},{"s":"N-Dex Plus","x":119,"y":28},{"s":"N-Dex Plus","x":115,"y":27.5},{"s":"N-Dex Plus","x":111,"y":26.5},{"s":"N-Dex Plus","x":107,"y":28},{"s":"N-Dex Plus","x":103,"y":27},{"s":"N-Dex Plus","x":99,"y":26},{"s":"N-Dex Plus","x":95,"y":27.5},{"s":"N-Dex Plus","x":91,"y":28},{"s":"N-Dex Plus","x":87,"y":26.5},{"s":"N-Dex Plus","x":83,"y":27},{"s":"N-Dex Plus","x":79,"y":28},{"s":"N-Dex Plus","x":75,"y":26.5},{"s":"N-Dex Plus","x":71,"y":27.5},{"s":"N-Dex Plus","x":67,"y":26},{"s":"N-Dex Plus","x":63,"y":27},{"s":"N-Dex Plus","x":59,"y":28},{"s":"N-Dex Plus","x":55,"y":27},{"s":"N-Dex Plus","x":51,"y":27.5},{"s":"N-Dex Plus","x":49.6,"y":28},{"s":"N-Dex Plus","x":49.1,"y":32},{"s":"N-Dex Plus","x":48.5,"y":29},{"s":"N-Dex Plus","x":46.7,"y":31},{"s":"N-Dex Plus","x":45.5,"y":30},{"s":"N-Dex Plus","x":44,"y":31},{"s":"N-Dex Plus","x":42,"y":35},{"s":"N-Dex Plus","x":40,"y":41},{"s":"N-Dex Plus","x":38.5,"y":50},{"s":"N-Dex Plus","x":37.5,"y":60},{"s":"N-Dex Plus","x":36.8,"y":75},{"s":"N-Dex Plus","x":36.1,"y":100},{"s":"N-Dex Plus","x":35.5,"y":160},{"s":"N-Dex Plus","x":35,"y":127},{"s":"N-Dex Plus","x":34.5,"y":118},{"s":"N-Dex Plus","x":34,"y":107},{"s":"N-Dex Plus","x":33,"y":87},{"s":"N-Dex Plus","x":32,"y":72},{"s":"N-Dex Plus","x":31.3,"y":68},{"s":"N-Dex Plus","x":30.9,"y":67},{"s":"N-Dex Plus","x":30,"y":57},{"s":"N-Dex Plus","x":29,"y":49},{"s":"N-Dex Plus","x":28,"y":45},{"s":"N-Dex Plus","x":27,"y":42},{"s":"N-Dex Plus","x":26.3,"y":45},{"s":"N-Dex Plus","x":25.5,"y":37},{"s":"N-Dex Plus","x":24.5,"y":33},{"s":"N-Dex Plus","x":23,"y":31},{"s":"N-Dex Plus","x":21,"y":30},{"s":"N-Dex Plus","x":19,"y":29},{"s":"N-Dex Plus","x":18.3,"y":30},{"s":"N-Dex Plus","x":17.7,"y":42},{"s":"N-Dex Plus","x":17.1,"y":31},{"s":"N-Dex Plus","x":15.5,"y":28},{"s":"N-Dex Plus","x":12,"y":27},{"s":"N-Dex Plus","x":8,"y":28},{"s":"N-Dex Plus","x":4,"y":26.5},{"s":"N-Dex Plus","x":0,"y":27},{"s":"N-Dex Plus","x":-4,"y":28},{"s":"N-Dex Plus","x":-8,"y":26},{"s":"N-Dex Plus","x":-12,"y":27.5},{"s":"N-Dex Plus","x":-16,"y":27},{"s":"N-Dex Plus","x":-20,"y":26},{"s":"N-Dex Plus","x":-24,"y":28},{"s":"N-Dex Plus","x":-28,"y":27},{"s":"N-Dex Plus","x":-32,"y":26.5},{"s":"N-Dex Plus","x":-36,"y":27.5},{"s":"N-Dex Plus","x":-40,"y":26},{"s":"N-Dex Plus","x":-44,"y":27},{"s":"N-Dex Plus","x":-49,"y":27.5},

      {"s":"Pure Nitrile","x":200,"y":5},{"s":"Pure Nitrile","x":196,"y":6},{"s":"Pure Nitrile","x":192,"y":4},{"s":"Pure Nitrile","x":188,"y":5.5},{"s":"Pure Nitrile","x":184,"y":4.5},{"s":"Pure Nitrile","x":180,"y":6},{"s":"Pure Nitrile","x":176,"y":4},{"s":"Pure Nitrile","x":172,"y":5},{"s":"Pure Nitrile","x":168,"y":6},{"s":"Pure Nitrile","x":164,"y":4.5},{"s":"Pure Nitrile","x":160,"y":5.5},{"s":"Pure Nitrile","x":156,"y":4},{"s":"Pure Nitrile","x":152,"y":5},{"s":"Pure Nitrile","x":148,"y":6},{"s":"Pure Nitrile","x":144,"y":5},{"s":"Pure Nitrile","x":141,"y":5.5},{"s":"Pure Nitrile","x":139.5,"y":6},{"s":"Pure Nitrile","x":138.7,"y":12},{"s":"Pure Nitrile","x":138,"y":20},{"s":"Pure Nitrile","x":137,"y":18},{"s":"Pure Nitrile","x":136,"y":24},{"s":"Pure Nitrile","x":135,"y":22},{"s":"Pure Nitrile","x":134,"y":25},{"s":"Pure Nitrile","x":133,"y":29},{"s":"Pure Nitrile","x":132,"y":26},{"s":"Pure Nitrile","x":131,"y":28},{"s":"Pure Nitrile","x":130,"y":24},{"s":"Pure Nitrile","x":129,"y":26},{"s":"Pure Nitrile","x":128,"y":23},{"s":"Pure Nitrile","x":127.5,"y":17},{"s":"Pure Nitrile","x":126.5,"y":11},{"s":"Pure Nitrile","x":125.5,"y":8},{"s":"Pure Nitrile","x":124.5,"y":7},{"s":"Pure Nitrile","x":123.6,"y":10},{"s":"Pure Nitrile","x":123,"y":7},{"s":"Pure Nitrile","x":121,"y":6},{"s":"Pure Nitrile","x":119,"y":5},{"s":"Pure Nitrile","x":115,"y":5},{"s":"Pure Nitrile","x":111,"y":6},{"s":"Pure Nitrile","x":107,"y":4},{"s":"Pure Nitrile","x":103,"y":5.5},{"s":"Pure Nitrile","x":99,"y":4.5},{"s":"Pure Nitrile","x":95,"y":6},{"s":"Pure Nitrile","x":91,"y":4},{"s":"Pure Nitrile","x":87,"y":5},{"s":"Pure Nitrile","x":83,"y":6},{"s":"Pure Nitrile","x":79,"y":4.5},{"s":"Pure Nitrile","x":75,"y":5.5},{"s":"Pure Nitrile","x":71,"y":4},{"s":"Pure Nitrile","x":67,"y":5},{"s":"Pure Nitrile","x":63,"y":6},{"s":"Pure Nitrile","x":59,"y":4.5},{"s":"Pure Nitrile","x":55,"y":5.5},{"s":"Pure Nitrile","x":51,"y":5},{"s":"Pure Nitrile","x":49.6,"y":6},{"s":"Pure Nitrile","x":49.1,"y":14},{"s":"Pure Nitrile","x":48.6,"y":7},{"s":"Pure Nitrile","x":47,"y":8},{"s":"Pure Nitrile","x":45,"y":9},{"s":"Pure Nitrile","x":43,"y":8},{"s":"Pure Nitrile","x":41,"y":10},{"s":"Pure Nitrile","x":39.5,"y":14},{"s":"Pure Nitrile","x":38.4,"y":27},{"s":"Pure Nitrile","x":37.8,"y":22},{"s":"Pure Nitrile","x":37,"y":35},{"s":"Pure Nitrile","x":36,"y":55},{"s":"Pure Nitrile","x":35.5,"y":67},{"s":"Pure Nitrile","x":35.1,"y":60},{"s":"Pure Nitrile","x":34.7,"y":97},{"s":"Pure Nitrile","x":34.2,"y":67},{"s":"Pure Nitrile","x":33.7,"y":60},{"s":"Pure Nitrile","x":33,"y":45},{"s":"Pure Nitrile","x":32,"y":33},{"s":"Pure Nitrile","x":30.9,"y":27},{"s":"Pure Nitrile","x":30.3,"y":19},{"s":"Pure Nitrile","x":29.6,"y":18},{"s":"Pure Nitrile","x":29,"y":21},{"s":"Pure Nitrile","x":28.3,"y":15},{"s":"Pure Nitrile","x":27.5,"y":14},{"s":"Pure Nitrile","x":26.6,"y":19},{"s":"Pure Nitrile","x":26,"y":15},{"s":"Pure Nitrile","x":25.3,"y":17},{"s":"Pure Nitrile","x":24.6,"y":10},{"s":"Pure Nitrile","x":23.5,"y":9},{"s":"Pure Nitrile","x":22.8,"y":13},{"s":"Pure Nitrile","x":22,"y":8},{"s":"Pure Nitrile","x":20,"y":7},{"s":"Pure Nitrile","x":18.3,"y":6},{"s":"Pure Nitrile","x":17.7,"y":13},{"s":"Pure Nitrile","x":17.1,"y":6},{"s":"Pure Nitrile","x":15,"y":5},{"s":"Pure Nitrile","x":12,"y":5},{"s":"Pure Nitrile","x":8,"y":6},{"s":"Pure Nitrile","x":4,"y":4},{"s":"Pure Nitrile","x":0,"y":5.5},{"s":"Pure Nitrile","x":-4,"y":4.5},{"s":"Pure Nitrile","x":-8,"y":6},{"s":"Pure Nitrile","x":-12,"y":4},{"s":"Pure Nitrile","x":-16,"y":5},{"s":"Pure Nitrile","x":-20,"y":6},{"s":"Pure Nitrile","x":-24,"y":4.5},{"s":"Pure Nitrile","x":-28,"y":5.5},{"s":"Pure Nitrile","x":-32,"y":4},{"s":"Pure Nitrile","x":-36,"y":5},{"s":"Pure Nitrile","x":-40,"y":6},{"s":"Pure Nitrile","x":-44,"y":4.5},{"s":"Pure Nitrile","x":-49,"y":5}
    ]
  },
  "data": {"name": "spectra"},
  "mark": {"type": "line", "strokeWidth": 1.2, "strokeJoin": "round"},
  "encoding": {
    "x": {
      "field": "x",
      "type": "quantitative",
      "scale": {"domain": [-49, 200], "reverse": true, "nice": false, "zero": false},
      "axis": {
        "title": "¹³C Chemical Shift",
        "values": [190, 180, 170, 160, 150, 140, 130, 120, 110, 100, 90, 80, 70, 60, 50, 40, 30, 20, 10, 0, -10, -20, -30, -40],
        "labelExpr": "datum.value % 50 === 0 ? datum.label : ''",
        "labelOverlap": false,
        "labelFlush": false,
        "grid": false,
        "domainColor": "#000000",
        "tickColor": "#000000",
        "tickSize": 6,
        "labelFontSize": 14,
        "labelColor": "#111111",
        "labelPadding": 7,
        "titleFontSize": 20,
        "titleFontWeight": "normal",
        "titleColor": "#111111",
        "titlePadding": 13
      }
    },
    "y": {
      "field": "y",
      "type": "quantitative",
      "scale": {"domain": [0, 660], "nice": false, "zero": false},
      "axis": null
    },
    "color": {
      "field": "s",
      "type": "nominal",
      "scale": {
        "domain": ["Pure Nitrile", "N-Dex Plus", "Restore Touch", "U.S. Medical", "Curaplex", "Am. Nitrile (Slate)", "Ansell Life Star", "V. Glove", "Safeko PVC"],
        "range": ["#111111", "#ed2024", "#f26522", "#fbb040", "#1a7040", "#2e3192", "#6a2c91", "#ea3f86", "#7f7f7f"]
      },
      "legend": {
        "title": null,
        "orient": "none",
        "legendX": 31,
        "legendY": 35,
        "padding": 0,
        "symbolType": "square",
        "symbolSize": 70,
        "symbolStrokeWidth": 0,
        "labelFontSize": 16,
        "labelColor": "#222222",
        "labelOffset": 3,
        "rowPadding": 2.8,
        "encode": {"symbols": {"update": {"fill": {"scale": "color", "field": "value"}, "fillOpacity": {"value": 1}}}}
      }
    }
  }
}
